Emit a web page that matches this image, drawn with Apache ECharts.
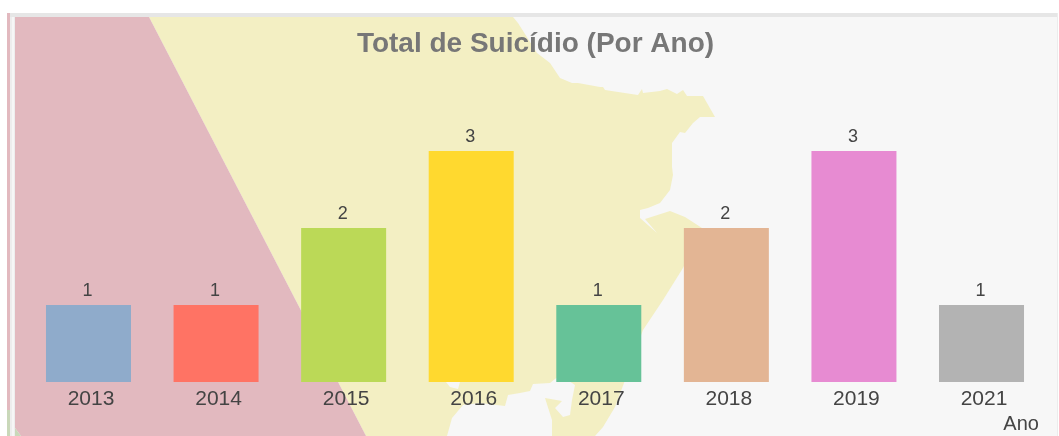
<!DOCTYPE html>
<html lang="pt">

<head>
  <meta charset="UTF-8">
  <title>Total de Suicídio (Por Ano)</title>
  <script src="https://cdn.jsdelivr.net/npm/echarts@6/dist/echarts.min.js"></script>
  <style>
    html, body { margin: 0; padding: 0; background: #fff; }
    #main { width: 1059px; height: 436px; }
  </style>
</head>

<body>
  <div id="main"></div>
  <script>
    var anos = ['2013', '2014', '2015', '2016', '2017', '2018', '2019', '2021'];
    var totais = [1, 1, 2, 3, 1, 2, 3, 1];
    var cores = ['#8fabcb', '#ff7364', '#bbd957', '#ffd92f', '#66c298', '#e3b594', '#e78bd2', '#b3b3b3'];

    // mapa de fundo (decoracao, nao sao dados)
    var terra = [[149, 17], [513, 17], [518, 23], [537, 53], [550, 63], [560, 78], [572, 83], [578, 83], [600, 87], [603, 87], [605, 90],
      [638, 95], [642, 89], [643, 93], [660, 91], [667, 89], [677, 94], [683, 90], [687, 96], [703, 96], [715, 117], [700, 117],
      [693, 123], [685, 133], [680, 132], [672, 143], [672, 167], [673, 175], [670, 190], [660, 203], [648, 208], [640, 210],
      [640, 218], [657, 233], [645, 219], [670, 211], [685, 217], [702, 228], [683, 268], [663, 300], [643, 330], [624, 383],
      [615, 407], [603, 427], [595, 436], [552, 436], [552, 420], [545, 398], [562, 401], [555, 408], [563, 417], [570, 415],
      [572, 400], [575, 385], [560, 375], [550, 383], [533, 384], [530, 391], [520, 393], [508, 395], [505, 406], [480, 403],
      [463, 405], [452, 418], [447, 436], [366, 436]];
    var enseada = [[446, 382], [460, 382], [458, 389], [450, 387]];
    var faixaRosa = [[15, 17], [149, 17], [366, 436], [21, 436], [15, 428]];
    var cantoVerde = [[15, 428], [21, 436], [15, 436]];

    function poly(pts, cor) {
      return { type: 'polygon', z: -1, shape: { points: pts }, style: { fill: cor } };
    }
    function rect(x, y, w, h, cor) {
      return { type: 'rect', z: -1, shape: { x: x, y: y, width: w, height: h }, style: { fill: cor } };
    }

    var myChart = echarts.init(document.getElementById('main'));
    var option = {
      backgroundColor: '#fff',
      animation: false,
      title: {
        text: 'Total de Suicídio (Por Ano)',
        left: 530.5,
        top: 25,
        textAlign: 'center',
        textStyle: { fontFamily: 'Liberation Sans', fontSize: 28, fontWeight: 'bold', color: '#777' }
      },
      graphic: {
        elements: [
          rect(15, 17, 1042, 419, '#f7f7f7'),
          rect(7, 13, 3, 423, '#e2b9bf'),
          rect(7, 410, 3, 26, '#c9d8b9'),
          rect(10, 13, 5, 423, '#ededed'),
          rect(12, 17, 2, 419, '#f6f6f6'),
          rect(10, 13, 1047, 4, '#e6e6e6'),
          rect(1057, 13, 1, 423, '#ececec'),
          poly(terra, '#f3efc3'),
          poly(enseada, '#f7f7f7'),
          poly(faixaRosa, '#e2b9bf'),
          poly(cantoVerde, '#c9d8b9')
        ]
      },
      grid: { left: 24.7, right: 13.7, top: 151, bottom: 54 },
      xAxis: {
        type: 'category',
        data: anos,
        name: 'Ano',
        nameLocation: 'end',
        nameGap: -42,
        nameTextStyle: {
          fontFamily: 'Liberation Sans', fontSize: 20, color: '#444',
          verticalAlign: 'top', padding: [32, 0, 0, 0]
        },
        axisLine: { show: false },
        axisTick: { show: false },
        axisLabel: {
          fontFamily: 'Liberation Sans', fontSize: 21, color: '#444', margin: 7,
          padding: [0, 0, 0, 5]
        }
      },
      yAxis: { type: 'value', min: 0, max: 3, show: false },
      series: [
        {
          type: 'bar',
          barWidth: 85,
          data: totais.map(function (v, i) {
            return { value: v, itemStyle: { color: cores[i] } };
          }),
          label: {
            show: true,
            position: 'top',
            distance: 5,
            fontFamily: 'Liberation Sans',
            fontSize: 18,
            color: '#444',
            padding: [0, 2, 0, 0]
          }
        }
      ]
    };
    myChart.setOption(option);
  </script>
</body>

</html>
